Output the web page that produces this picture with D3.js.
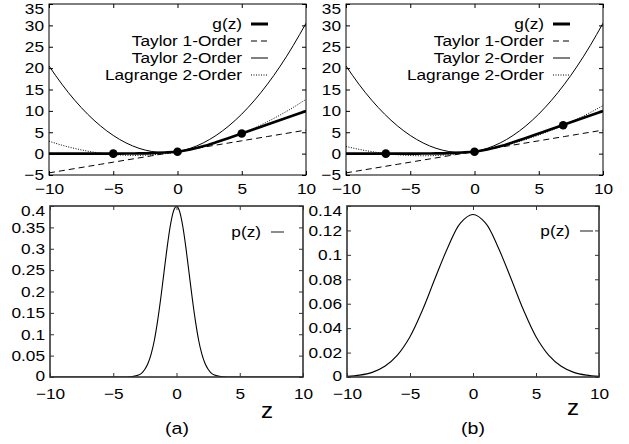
<!DOCTYPE html>
<html>
<head>
<meta charset="utf-8">
<script src="https://cdn.jsdelivr.net/npm/d3@7"></script>
<style>
  body { margin: 0; background: #fff; }
  svg { display: block; font-family: "Liberation Sans", Arial, Helvetica, sans-serif; }
</style>
</head>
<body>
<svg id="chart" width="629" height="444"></svg>
<script>
// ---------------- DATA ----------------
const zGrid = [-10,-9,-8,-7,-6,-5,-4,-3,-2,-1,0,1,2,3,4,5,6,7,8,9,10];
const gValues = [0,0,0,0,0,0,0.02,0.05,0.12,0.25,0.45,0.95,1.7,2.65,3.65,4.7,5.75,6.8,7.85,8.9,9.95];
const taylor1Values = [-4.5,-4,-3.5,-3,-2.5,-2,-1.5,-1,-0.5,0,0.5,1,1.5,2,2.5,3,3.5,4,4.5,5,5.5];
const taylor2Values = [20.5,16.25,12.5,9.25,6.5,4.25,2.5,1.25,0.5,0.25,0.5,1.25,2.5,4.25,6.5,9.25,12.5,16.25,20.5,25.25,30.5];
const lagrangeA = [2.9,1.98,1.22,0.59,0.12,-0.2,-0.38,-0.4,-0.28,-0.02,0.4,0.96,1.68,2.54,3.54,4.7,6.0,7.46,9.06,10.8,12.7];
const lagrangeB = [1.67,1.01,0.47,0.04,-0.26,-0.44,-0.5,-0.44,-0.27,0.03,0.45,0.99,1.64,2.42,3.32,4.34,5.48,6.74,8.11,9.61,11.23];
const pointsAz = [-5, 0, 5];
const pointsAg = [0, 0.45, 4.7];
const pointsBz = [-6.9, 0, 6.9];
const pointsBg = [0, 0.45, 6.65];

const pAz = [-10,-5,-4,-3.5,-3,-2.75,-2.5,-2.25,-2,-1.75,-1.5,-1.25,-1,-0.75,-0.5,-0.25,0,0.25,0.5,0.75,1,1.25,1.5,1.75,2,2.25,2.5,2.75,3,3.5,4,5,10];
const pAvalues = [0,0,0.0001,0.0009,0.0044,0.009,0.018,0.032,0.054,0.086,0.130,0.183,0.242,0.301,0.352,0.387,0.399,0.387,0.352,0.301,0.242,0.183,0.130,0.086,0.054,0.032,0.018,0.009,0.0044,0.0009,0.0001,0,0];
const pBz = [-10,-9,-8,-7,-6,-5,-4,-3,-2,-1,0,1,2,3,4,5,6,7,8,9,10];
const pBvalues = [0.0005,0.0015,0.0038,0.0088,0.018,0.033,0.055,0.081,0.106,0.126,0.133,0.126,0.106,0.081,0.055,0.033,0.018,0.0088,0.0038,0.0015,0.0005];

const xTicks = [-10,-5,0,5,10];
const topYTicks = [-5,0,5,10,15,20,25,30,35];
const bottomAYTicks = [0,0.05,0.1,0.15,0.2,0.25,0.3,0.35,0.4];
const bottomBYTicks = [0,0.02,0.04,0.06,0.08,0.1,0.12,0.14];
const legendTop = ["g(z)", "Taylor 1-Order", "Taylor 2-Order", "Lagrange 2-Order"];
const legendBottom = ["p(z)"];

// ---------------- DRAW ----------------
const svg = d3.select("#chart");
const SX = 1.15;          // horizontal stretch of the reference's lettering
const FONT = 15;
let clipId = 0;

function sText(parent, x, y, str, size, anchor, sx) {
  return parent.append("text")
    .attr("transform", `translate(${x},${y}) scale(${sx || SX},1)`)
    .attr("text-anchor", anchor).attr("dy", "0.35em")
    .style("font-size", size + "px").text(str);
}

function stretchAxisText(a) {
  a.selectAll("text").each(function() {
    const t = d3.select(this);
    const xv = +t.attr("x") || 0;
    t.attr("x", xv / SX).attr("transform", `scale(${SX},1)`);
  });
}

function frameAxes(g, x, y, w, h, yTicks, yFmt, frameColor, frameWidth, xPad) {
  const tick = 4;
  const bx = g.append("g").attr("transform", `translate(0,${h})`)
    .call(d3.axisBottom(x).tickValues(xTicks).tickSize(-tick).tickPadding(xPad).tickFormat(d3.format("d")));
  const ly = g.append("g")
    .call(d3.axisLeft(y).tickValues(yTicks).tickSize(-tick).tickPadding(5).tickFormat(yFmt));
  const tx = g.append("g")
    .call(d3.axisTop(x).tickValues(xTicks).tickSize(-tick).tickFormat(""));
  const ry = g.append("g").attr("transform", `translate(${w},0)`)
    .call(d3.axisRight(y).tickValues(yTicks).tickSize(-tick).tickFormat(""));
  [bx, ly, tx, ry].forEach(a => {
    a.select(".domain").remove();
    a.selectAll("line").attr("stroke", frameColor).attr("stroke-width", 1);
    a.selectAll("text").attr("fill", "#000").style("font-size", FONT + "px")
      .style("font-family", "'Liberation Sans', Arial, sans-serif");
  });
  stretchAxisText(bx);
  stretchAxisText(ly);
  // keep the topmost label inside the picture, as in the reference
  ly.selectAll(".tick").filter(d => y(d) < 6).select("text").attr("dy", "0.62em");
  g.append("rect").attr("x", 0).attr("y", 0).attr("width", w).attr("height", h)
    .attr("fill", "none").attr("stroke", frameColor).attr("stroke-width", frameWidth);
  return ly;
}

function clip(g, w, h) {
  const id = "clip" + (clipId++);
  g.append("clipPath").attr("id", id).append("rect").attr("width", w).attr("height", h);
  return g.append("g").attr("clip-path", `url(#${id})`);
}

function topPanel(left, top, right, bottom, lagr, ptsZ, ptsG, legendRight) {
  const w = right - left, h = bottom - top;
  const g = svg.append("g").attr("transform", `translate(${left},${top})`);
  const x = d3.scaleLinear().domain([-10, 10]).range([0, w]);
  const y = d3.scaleLinear().domain([-5, 35]).range([h, 0]);
  const c = clip(g, w, h);
  const line = (vals, curve) => d3.line().x((d, i) => x(zGrid[i])).y(d => y(d)).curve(curve)(vals);
  c.append("path").attr("d", line(taylor2Values, d3.curveNatural)).attr("fill", "none").attr("stroke", "#000").attr("stroke-width", 1);
  c.append("path").attr("d", line(taylor1Values, d3.curveLinear)).attr("fill", "none").attr("stroke", "#000").attr("stroke-width", 1).attr("stroke-dasharray", "6,4");
  c.append("path").attr("d", line(lagr, d3.curveNatural)).attr("fill", "none").attr("stroke", "#000").attr("stroke-width", 1).attr("stroke-dasharray", "1,1.5");
  c.append("path").attr("d", line(gValues, d3.curveMonotoneX)).attr("fill", "none").attr("stroke", "#000").attr("stroke-width", 2.6);
  c.selectAll("circle.pt").data(ptsZ).enter().append("circle")
    .attr("cx", d => x(d)).attr("cy", (d, i) => y(ptsG[i])).attr("r", 4.3).attr("fill", "#000");
  frameAxes(g, x, y, w, h, topYTicks, d3.format("d"), "#000", 1, 8);
  const styles = [
    {sw: 3, dash: null},
    {sw: 1, dash: "6,4"},
    {sw: 1, dash: null},
    {sw: 1, dash: "1,1.5"}
  ];
  const lg = svg.append("g");
  legendTop.forEach((t, i) => {
    const yy = 24 + i * 17;
    sText(lg, legendRight, yy, t, FONT, "end");
    lg.append("line").attr("x1", legendRight + 9).attr("x2", legendRight + 26)
      .attr("y1", yy).attr("y2", yy).attr("stroke", "#000")
      .attr("stroke-width", styles[i].sw).attr("stroke-dasharray", styles[i].dash);
  });
}

function bottomPanel(left, top, right, bottom, zs, vals, ymax, yTicks, yFmt, legendRight, legendY, curve) {
  const w = right - left, h = bottom - top;
  const g = svg.append("g").attr("transform", `translate(${left},${top})`);
  const x = d3.scaleLinear().domain([-10, 10]).range([0, w]);
  const y = d3.scaleLinear().domain([0, ymax]).range([h, 0]);
  const c = clip(g, w, h);
  c.append("path").attr("d", d3.line().x((d, i) => x(zs[i])).y(d => y(d)).curve(curve)(vals))
    .attr("fill", "none").attr("stroke", "#000").attr("stroke-width", 1.1);
  const ly = frameAxes(g, x, y, w, h, yTicks, yFmt, "#333", 1.6, 11);
  // the zero label sits a little above its tick, as in the reference
  ly.selectAll(".tick").filter(d => d === 0).select("text").attr("dy", "0.2em");
  sText(svg, legendRight, legendY, legendBottom[0], FONT, "end");
  svg.append("line").attr("x1", legendRight + 10).attr("x2", legendRight + 23)
    .attr("y1", legendY).attr("y2", legendY).attr("stroke", "#666").attr("stroke-width", 1.5);
}

topPanel(49, 4, 306, 175, lagrangeA, pointsAz, pointsAg, 242);
topPanel(346, 4, 603, 175, lagrangeB, pointsBz, pointsBg, 544);

const fmtA = d => d === 0 ? "0" : d3.format(".2~f")(d);
bottomPanel(50, 206, 303, 377, pAz, pAvalues, 0.4, bottomAYTicks, fmtA, 261, 232, d3.curveMonotoneX);
bottomPanel(347, 206, 599, 377, pBz, pBvalues, 0.14, bottomBYTicks, fmtA, 570, 231, d3.curveCatmullRom);

// captions
sText(svg, 267, 410, "z", 22, "middle", 1.1);
sText(svg, 573, 407, "z", 22, "middle", 1.1);
sText(svg, 177, 428, "(a)", 17, "middle", 1.15);
sText(svg, 473, 428, "(b)", 17, "middle", 1.15);
</script>
</body>
</html>
